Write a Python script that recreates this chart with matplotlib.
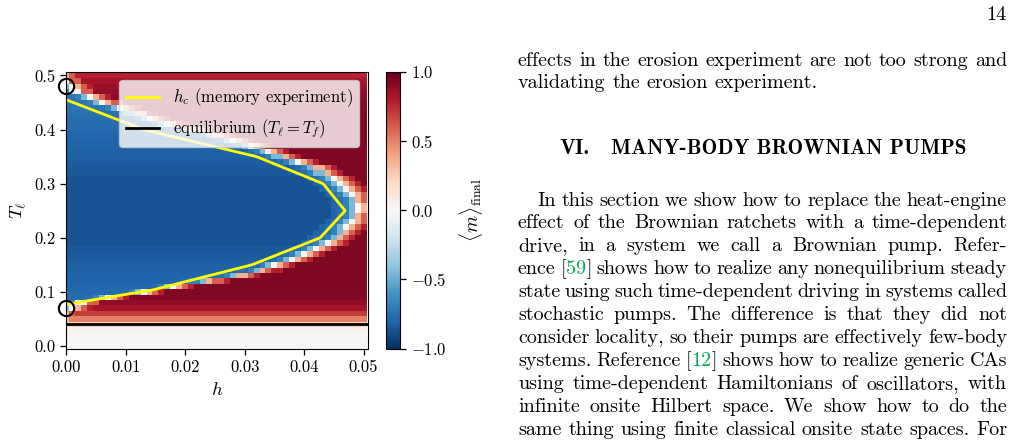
import numpy as np
import matplotlib
matplotlib.use("Agg")
import matplotlib.pyplot as plt

plt.rcParams.update({
    "font.family": "cmr10",
    "mathtext.fontset": "cm",
    "axes.formatter.use_mathtext": True,
    "axes.unicode_minus": True,
})

# ---------------- data ----------------
# grid of the heat map (cell centres)
h_grid = np.round(np.arange(51) * 0.001, 4)
T_grid = np.round(np.arange(51) * 0.01, 2)

# h where <m>_final changes sign in each row T = 0.00 ... 0.50
boundary_h = [-0.01, -0.01, -0.01, -0.01, -0.01,      # 0.00-0.04
              -0.001, -0.001, 0.0008, 0.0025, 0.007,   # 0.05-0.09
              0.0125, 0.0175, 0.0235, 0.0285, 0.0325,  # 0.10-0.14
              0.0355, 0.038, 0.040, 0.042, 0.044,      # 0.15-0.19
              0.0455, 0.0465, 0.0473, 0.048, 0.0485,   # 0.20-0.24
              0.0488, 0.0487, 0.0485, 0.048, 0.047,    # 0.25-0.29
              0.046, 0.0452, 0.0435, 0.0415, 0.039,    # 0.30-0.34
              0.0365, 0.034, 0.031, 0.028, 0.0245,     # 0.35-0.39
              0.0205, 0.017, 0.014, 0.0115, 0.009,     # 0.40-0.44
              0.0065, 0.004, 0.0015, 0.0008, -0.0005,  # 0.45-0.49
              -0.001]                                  # 0.50

# saturated value on the red side of each row
red_far = [0.01, 0.01, 0.015, 0.04, 0.22,
           0.50, 0.70, 0.83, 0.89, 0.92,
           0.93, 0.93, 0.93, 0.93, 0.93,
           0.93, 0.93, 0.93, 0.93, 0.93,
           0.93, 0.93, 0.93, 0.93, 0.93,
           0.93, 0.93, 0.93, 0.93, 0.93,
           0.93, 0.93, 0.93, 0.93, 0.93,
           0.93, 0.93, 0.93, 0.93, 0.93,
           0.93, 0.93, 0.93, 0.93, 0.92,
           0.91, 0.90, 0.88, 0.86, 0.83,
           0.77]

# saturated value deep inside the blue region of each row
blue_far = [-0.8, -0.8, -0.8, -0.8, -0.8, -0.8, -0.8,
            -0.74, -0.76, -0.77, -0.78, -0.79, -0.80, -0.81,
            -0.82, -0.82, -0.83, -0.84, -0.85, -0.86,
            -0.86, -0.86, -0.86, -0.86, -0.86, -0.86, -0.86, -0.86, -0.86, -0.86,
            -0.86, -0.86, -0.85, -0.84, -0.83, -0.82, -0.82,
            -0.81, -0.80, -0.79, -0.78, -0.77, -0.76, -0.75,
            -0.74, -0.73, -0.73, -0.73, -0.73, -0.8, -0.8]

# values of the cells next to the sign change (offset in cells -> value)
edge_offsets = [-4, -3, -2, -1, 0, 1, 2, 3]
edge_values = [-0.80, -0.76, -0.68, -0.45, 0.0, 0.35, 0.60, 0.78]

# critical field of the memory experiment
hc_T = [0.077, 0.104, 0.15, 0.20, 0.25, 0.30, 0.35, 0.40, 0.455]
hc_h = [0.0, 0.0147, 0.0312, 0.0427, 0.0469, 0.0432, 0.032, 0.013, 0.0]

T_f = 0.04
circle_h = [0.0, 0.0]
circle_T = [0.48, 0.07]

# ---------------- build grid ----------------
M = np.zeros((len(T_grid), len(h_grid)))
edge_map = dict(zip(edge_offsets, edge_values))
for i in range(len(T_grid)):
    for j in range(len(h_grid)):
        k = int(np.rint((h_grid[j] - boundary_h[i]) / 0.001))
        if k <= -5:
            v = blue_far[i]
        elif k >= 4:
            v = red_far[i]
        else:
            v = edge_map[k]
            if v > 0:
                v = min(v, red_far[i])
            else:
                v = max(v, blue_far[i])
        M[i, j] = v

# ---------------- figure ----------------
W, H = 1014, 443
fig = plt.figure(figsize=(W / 100, H / 100), dpi=100)


def fx(px):
    return px / W


def fy(py):
    return 1 - py / H


ax = fig.add_axes([fx(66.3), fy(348.7), fx(367.7) - fx(66.3), fy(71.7) - fy(348.7)])
mesh = ax.pcolormesh(h_grid, T_grid, M, cmap="RdBu_r", vmin=-1, vmax=1,
                     shading="nearest", rasterized=True)
ax.plot(hc_h, hc_T, color="#ffff00", lw=2.0, label=r"$h_c$ (memory experiment)")
ax.axhline(T_f, color="black", lw=2.0, label=r"equilibrium ($T_\ell = T_f$)")
ax.plot(circle_h, circle_T, "o", ms=11, mfc="none", mec="black", mew=1.5,
        clip_on=False, zorder=5)
ax.set_xlim(0, 0.0507)
ax.set_ylim(-0.005, 0.507)
ax.set_xticks([0.0, 0.01, 0.02, 0.03, 0.04, 0.05])
ax.set_xticklabels(["0.00", "0.01", "0.02", "0.03", "0.04", "0.05"])
ax.set_yticks([0.0, 0.1, 0.2, 0.3, 0.4, 0.5])
ax.set_yticklabels(["0.0", "0.1", "0.2", "0.3", "0.4", "0.5"])
ax.tick_params(labelsize=12, length=4.5, width=0.9)
ax.set_xlabel(r"$h$", fontsize=13.5)
ax.set_ylabel(r"$T_\ell$", fontsize=13.5)
ax.legend(loc="upper right", fontsize=12, framealpha=0.8)

cax = fig.add_axes([fx(386), fy(348.7), fx(399.5) - fx(386), fy(71.7) - fy(348.7)])
cb = fig.colorbar(mesh, cax=cax, ticks=[-1.0, -0.5, 0.0, 0.5, 1.0])
cb.ax.tick_params(labelsize=12, length=4.5, width=0.9)
cb.set_label(r"$\langle m\rangle_{\mathrm{final}}$", fontsize=14, labelpad=8)

# ---------------- page text ----------------
body_size = 14.5
renderer = fig.canvas.get_renderer()
GREEN = "#00a651"


def parse(word):
    segs = []
    buf = ""
    color = "black"
    for ch in word:
        if ch == "{":
            if buf:
                segs.append((buf, color))
            buf, color = "", GREEN
        elif ch == "}":
            segs.append((buf, color))
            buf, color = "", "black"
        else:
            buf += ch
    if buf:
        segs.append((buf, color))
    return segs


def place_line(text, x0, x1, base, size=body_size, family="cmr10", justify=True):
    words = text.split(" ")
    items = []
    for w in words:
        parts = []
        wid = 0.0
        for s, c in parse(w):
            t = fig.text(0, 0, s, fontsize=size, family=family, color=c,
                         va="baseline", ha="left")
            tw = t.get_window_extent(renderer=renderer).width
            parts.append((t, tw))
            wid += tw
        items.append((parts, wid))
    total = sum(w for _, w in items)
    if justify and len(items) > 1:
        gap = (x1 - x0 - total) / (len(items) - 1)
    else:
        gap = size * 100 / 72 * 0.333
    x = x0
    for parts, wid in items:
        xx = x
        for t, tw in parts:
            t.set_position((fx(xx), fy(base)))
            xx += tw
        x += wid + gap


L, R = 518, 1007
place_line("effects in the erosion experiment are not too strong and", L, R, 65.5)
place_line("validating the erosion experiment.", L, R, 88.5, justify=False)

# heading
t_head = fig.text(0, 0, "MANY-BODY BROWNIAN PUMPS", fontsize=13, family="cmb10",
                  va="baseline")
w13 = t_head.get_window_extent(renderer=renderer).width
head_size = 13 * 354 / w13
t_head.set_fontsize(head_size)
t_head.set_position((fx(611), fy(154.5)))
fig.text(fx(560), fy(154.5), "VI.", fontsize=head_size, family="cmb10", va="baseline")

para = [
    "In this section we show how to replace the heat-engine",
    "effect of the Brownian ratchets with a time-dependent",
    "drive, in a system we call a Brownian pump. Refer-",
    "ence [{59}] shows how to realize any nonequilibrium steady",
    "state using such time-dependent driving in systems called",
    "stochastic pumps. The difference is that they did not",
    "consider locality, so their pumps are effectively few-body",
    "systems. Reference [{12}] shows how to realize generic CAs",
    "using time-dependent Hamiltonians of oscillators, with",
    "infinite onsite Hilbert space. We show how to do the",
    "same thing using finite classical onsite state spaces. For",
]
base0 = 205.5
for n, line in enumerate(para):
    x0 = 537.7 if n == 0 else L
    place_line(line, x0, R, base0 + n * 22.95)

fig.text(fx(1006), fy(20), "14", fontsize=body_size, ha="right", va="baseline")

fig.savefig("out.png", dpi=100)
